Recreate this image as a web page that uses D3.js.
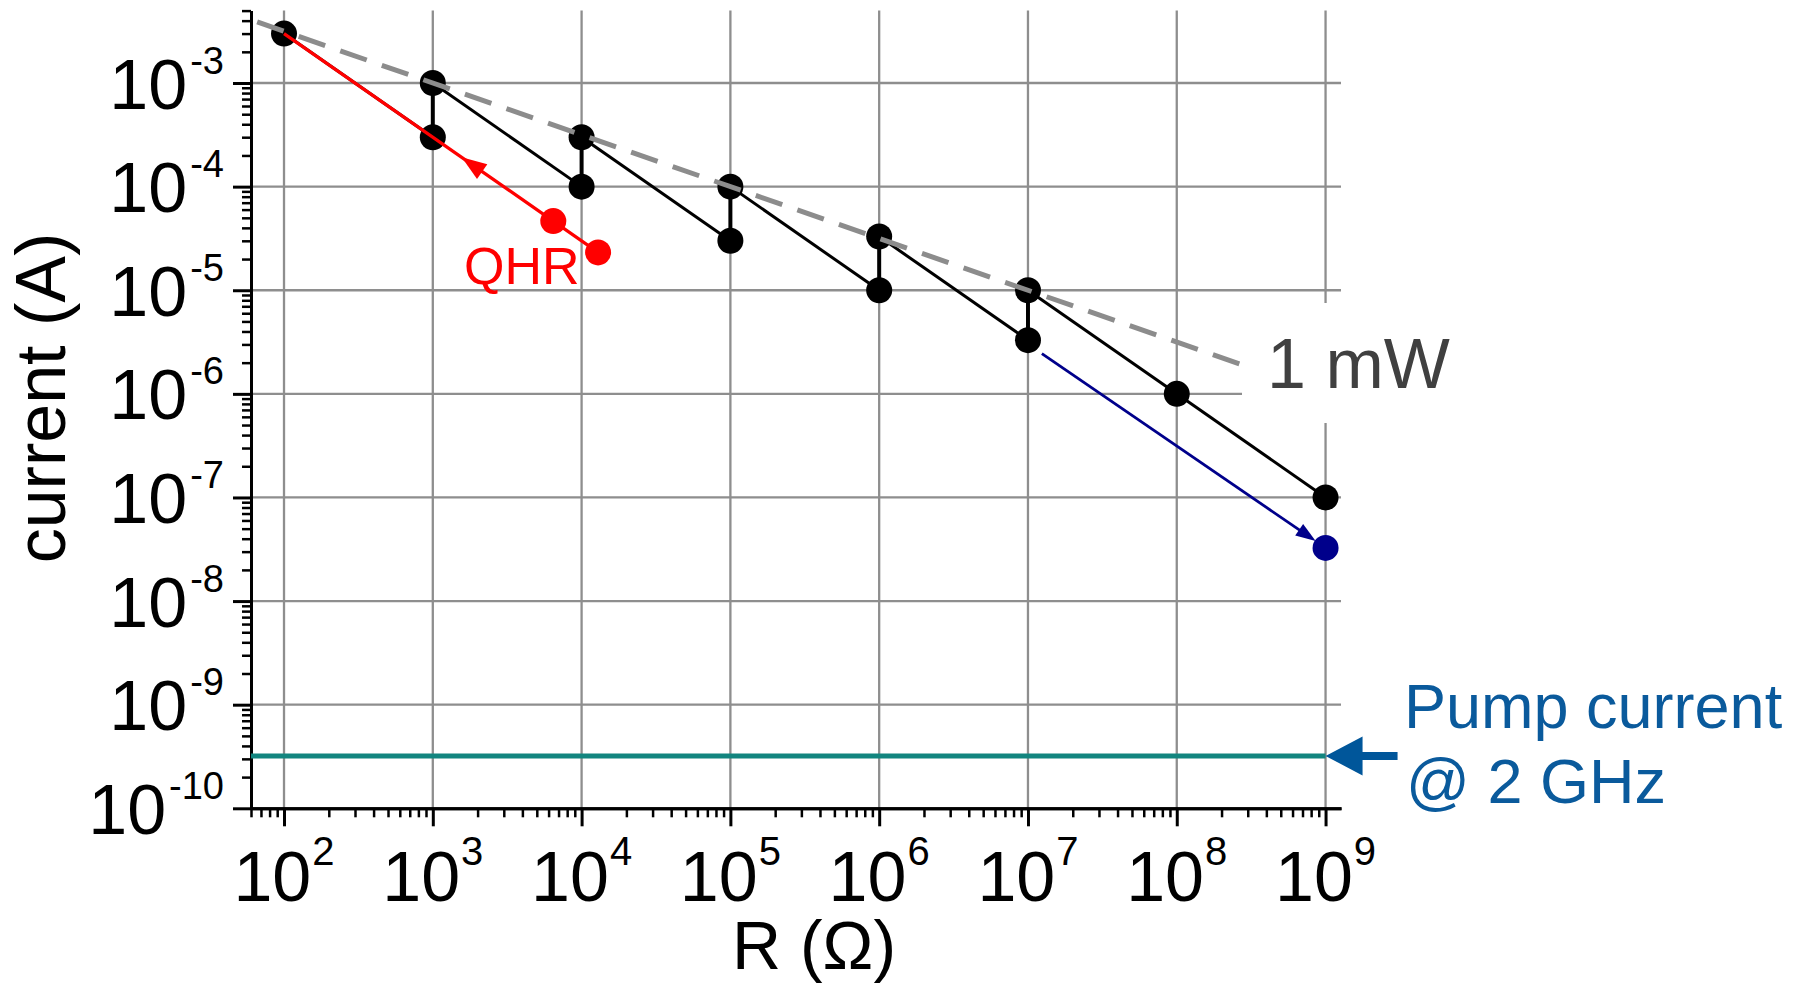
<!DOCTYPE html>
<html>
<head>
<meta charset="utf-8">
<script src="https://cdn.jsdelivr.net/npm/d3@7"></script>
<style>
  html, body { margin: 0; padding: 0; background: #ffffff; }
  svg { display: block; }
  text { font-family: "Liberation Sans", Arial, Helvetica, sans-serif; }
</style>
</head>
<body>
<svg id="chart" width="1798" height="986"></svg>
<script>
// ---------------- data ----------------
const resistances   = [1e2, 1e3, 1e4, 1e5, 1e6, 1e7, 1e8, 1e9];          // R (Ohm)
const currentHigh   = [3e-3, 1e-3, 3e-4, 1e-4, 3.3e-5, 1e-5, 1e-6, 1e-7]; // upper points (A)
const currentLow    = [null, 3e-4, 1e-4, 3e-5, 1e-5, 3.3e-6, null, null]; // lower points (A)

const qhrR          = [1e2, 6453, 12906];        // QHR path
const qhrI          = [3e-3, 4.65e-5, 2.32e-5];
const qhrDotR       = [6453, 12906];
const qhrDotI       = [4.65e-5, 2.32e-5];
const qhrArrowR     = [1563];                    // arrow tip
const qhrArrowI     = [1.92e-4];

const blueR         = [1.24e7, 1e9];
const blueI         = [2.45e-6, 3.26e-8];

const powerLimitW   = 1e-3;                      // 1 mW line, I = sqrt(P/R)
const powerLineR    = [66, 2.74e8];

const pumpCurrent   = 3.2e-10;                   // e * 2 GHz
const pumpR         = [60, 1e9];

const xDomain       = [60, 1.27e9];
const yDomain       = [1e-10, 5e-3];
const xMajorExp     = [2, 3, 4, 5, 6, 7, 8, 9];
const yMajorExp     = [-10, -9, -8, -7, -6, -5, -4, -3];

const labels = {
  y: "current (A)",
  x: "R (\u03A9)",
  power: "1 mW",
  qhr: "QHR",
  pump1: "Pump current",
  pump2: "@ 2 GHz"
};

// ---------------- scales ----------------
const svg = d3.select("#chart");
const x = d3.scaleLog().domain(xDomain).range([251, 1341]);
const y = d3.scaleLog().domain(yDomain).range([808.3, 10.6]);

const GRID = "#8e8e8e";

function minorTicks(domain) {
  const out = [];
  const lo = Math.floor(Math.log10(domain[0])), hi = Math.ceil(Math.log10(domain[1]));
  for (let e = lo; e <= hi; e++) {
    for (let k = 2; k <= 9; k++) {
      const v = k * Math.pow(10, e);
      if (v >= domain[0] * 0.999 && v <= domain[1] * 1.001) out.push(v);
    }
  }
  return out;
}

// ---------------- grid ----------------
const grid = svg.append("g");
grid.selectAll("line.h").data(yMajorExp.filter(e => e > -10)).join("line")
  .attr("x1", x(xDomain[0])).attr("x2", x(xDomain[1]))
  .attr("y1", e => y(Math.pow(10, e))).attr("y2", e => y(Math.pow(10, e)))
  .attr("stroke", GRID).attr("stroke-width", 2.3);
grid.selectAll("line.v").data(xMajorExp).join("line")
  .attr("x1", e => x(Math.pow(10, e))).attr("x2", e => x(Math.pow(10, e)))
  .attr("y1", y(yDomain[1])).attr("y2", y(yDomain[0]))
  .attr("stroke", GRID).attr("stroke-width", 2.3);

// ---------------- axes ----------------
function styleAxis(g, w) {
  g.select(".domain").attr("stroke", "#000").attr("stroke-width", 3);
  g.selectAll(".tick line").attr("stroke", "#000").attr("stroke-width", w);
  g.selectAll(".tick text").remove();
}
const yMinor = svg.append("g").attr("transform", `translate(${x(xDomain[0])},0)`)
  .call(d3.axisLeft(y).tickValues(minorTicks(yDomain)).tickSize(9).tickSizeOuter(0).tickFormat(""));
styleAxis(yMinor, 2.5);
const yMajor = svg.append("g").attr("transform", `translate(${x(xDomain[0])},0)`)
  .call(d3.axisLeft(y).tickValues(yMajorExp.map(e => Math.pow(10, e))).tickSize(18).tickSizeOuter(0).tickFormat(""));
styleAxis(yMajor, 3);
const xMinor = svg.append("g").attr("transform", `translate(0,${y(yDomain[0])})`)
  .call(d3.axisBottom(x).tickValues(minorTicks(xDomain)).tickSize(9).tickSizeOuter(0).tickFormat(""));
styleAxis(xMinor, 2.5);
const xMajor = svg.append("g").attr("transform", `translate(0,${y(yDomain[0])})`)
  .call(d3.axisBottom(x).tickValues(xMajorExp.map(e => Math.pow(10, e))).tickSize(18).tickSizeOuter(0).tickFormat(""));
styleAxis(xMajor, 3);

// tick labels
const yl = svg.append("g").selectAll("text").data(yMajorExp).join("text")
  .attr("x", 224).attr("y", e => y(Math.pow(10, e)) + 25.6)
  .attr("text-anchor", "end").attr("font-size", 70).attr("fill", "#000");
yl.append("tspan").text("10");
yl.append("tspan").attr("dx", 3).attr("dy", -35).attr("font-size", 38).text(e => String(e));

const xl = svg.append("g").selectAll("text").data(xMajorExp).join("text")
  .attr("x", e => x(Math.pow(10, e))).attr("y", 900.7)
  .attr("text-anchor", "middle").attr("font-size", 70).attr("fill", "#000");
xl.append("tspan").text("10");
xl.append("tspan").attr("dx", 1).attr("dy", -36).attr("font-size", 40).text(e => String(e));

// axis titles
svg.append("text").attr("transform", "translate(65,398) rotate(-90)")
  .attr("text-anchor", "middle").attr("font-size", 70).attr("fill", "#000").text(labels.y);
svg.append("text").attr("x", 814).attr("y", 969)
  .attr("text-anchor", "middle").attr("font-size", 68).attr("fill", "#000").text(labels.x);

// ---------------- 1 mW label box ----------------
svg.append("rect").attr("x", 1242).attr("y", 303).attr("width", 220).attr("height", 120).attr("fill", "#fff");
svg.append("text").attr("x", 1267).attr("y", 387.7).attr("font-size", 70).attr("fill", "#404040").text(labels.power);

// ---------------- pump current ----------------
const yPump = y(pumpCurrent);
svg.append("line").attr("x1", x(pumpR[0])).attr("x2", x(pumpR[1]))
  .attr("y1", yPump).attr("y2", yPump)
  .attr("stroke", "#12857f").attr("stroke-width", 5);
const tipX = x(pumpR[1]);
svg.append("path")
  .attr("d", `M${tipX},${yPump} L${tipX + 37},${yPump - 19.5} L${tipX + 37},${yPump - 4} L${tipX + 72},${yPump - 4} L${tipX + 72},${yPump + 4} L${tipX + 37},${yPump + 4} L${tipX + 37},${yPump + 19.5} Z`)
  .attr("fill", "#00569a");
svg.append("text").attr("x", 1404).attr("y", 728).attr("font-size", 63).attr("fill", "#0a5a9c").text(labels.pump1);
svg.append("text").attr("x", 1406).attr("y", 803).attr("font-size", 63).attr("fill", "#0a5a9c").text(labels.pump2);

// ---------------- black measurement series ----------------
const line = d3.line().x(d => x(d[0])).y(d => y(d[1]));
const segs = [];
for (let i = 0; i < resistances.length - 1; i++) {
  const endI = currentLow[i + 1] !== null ? currentLow[i + 1] : currentHigh[i + 1];
  segs.push([[resistances[i], currentHigh[i]], [resistances[i + 1], endI]]);
}
const verts = [];
resistances.forEach((r, i) => { if (currentLow[i] !== null) verts.push([[r, currentHigh[i]], [r, currentLow[i]]]); });

svg.append("g").selectAll("path").data(segs).join("path")
  .attr("d", line).attr("fill", "none").attr("stroke", "#000").attr("stroke-width", 3);
svg.append("g").selectAll("path").data(verts).join("path")
  .attr("d", line).attr("fill", "none").attr("stroke", "#000").attr("stroke-width", 4);

const blackPts = [];
resistances.forEach((r, i) => {
  blackPts.push([r, currentHigh[i]]);
  if (currentLow[i] !== null) blackPts.push([r, currentLow[i]]);
});
svg.append("g").selectAll("circle").data(blackPts).join("circle")
  .attr("cx", d => x(d[0])).attr("cy", d => y(d[1])).attr("r", 13).attr("fill", "#000");

// ---------------- 1 mW dashed line ----------------
const powerPts = powerLineR.map(r => [r, Math.sqrt(powerLimitW / r)]);
svg.append("path").attr("d", line(powerPts)).attr("fill", "none")
  .attr("stroke", "#8c8c8c").attr("stroke-width", 5).attr("stroke-dasharray", "28,16");

// ---------------- QHR (red) ----------------
svg.append("path").attr("d", line(qhrR.map((r, i) => [r, qhrI[i]]))).attr("fill", "none")
  .attr("stroke", "#ff0000").attr("stroke-width", 3.2);
svg.append("g").selectAll("circle").data(qhrDotR.map((r, i) => [r, qhrDotI[i]])).join("circle")
  .attr("cx", d => x(d[0])).attr("cy", d => y(d[1])).attr("r", 13).attr("fill", "#ff0000");

function arrowHead(tx, ty, bx, by, len, half) {
  const a = Math.atan2(ty - by, tx - bx);
  const cx = tx - len * Math.cos(a), cy = ty - len * Math.sin(a);
  const px = -Math.sin(a) * half, py = Math.cos(a) * half;
  return `M${tx},${ty} L${cx + px},${cy + py} L${cx - px},${cy - py} Z`;
}
svg.append("path")
  .attr("d", arrowHead(x(qhrArrowR[0]), y(qhrArrowI[0]), x(qhrDotR[0]), y(qhrDotI[0]), 25, 9))
  .attr("fill", "#ff0000");
svg.append("text").attr("x", 464).attr("y", 284).attr("font-size", 52).attr("fill", "#ff0000").text(labels.qhr);

// ---------------- blue arrow ----------------
const bx0 = x(blueR[0]), by0 = y(blueI[0]), bx1 = x(blueR[1]), by1 = y(blueI[1]);
const ang = Math.atan2(by1 - by0, bx1 - bx0);
const tX = bx1 - 12 * Math.cos(ang), tY = by1 - 12 * Math.sin(ang);
svg.append("line").attr("x1", bx0).attr("y1", by0)
  .attr("x2", tX - 15 * Math.cos(ang)).attr("y2", tY - 15 * Math.sin(ang))
  .attr("stroke", "#00008b").attr("stroke-width", 2.8);
svg.append("path").attr("d", arrowHead(tX, tY, bx0, by0, 20, 7)).attr("fill", "#00008b");
svg.append("circle").attr("cx", bx1).attr("cy", by1).attr("r", 13).attr("fill", "#00008b");
</script>
</body>
</html>
